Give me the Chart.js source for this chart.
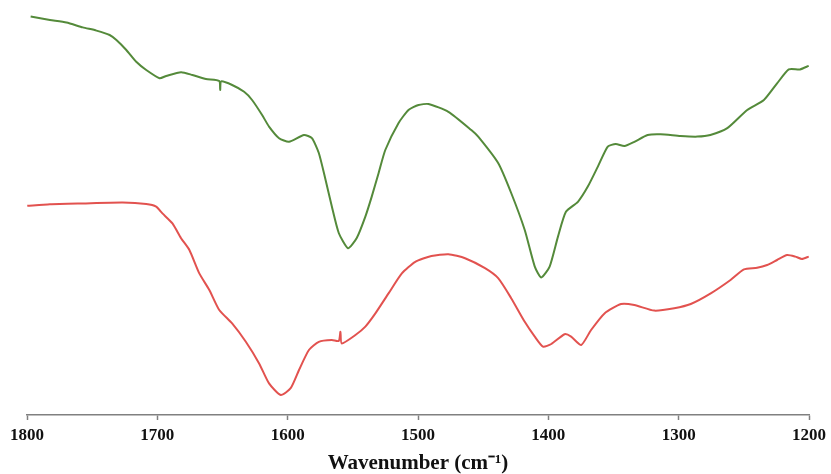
<!DOCTYPE html>
<html>
<head>
<meta charset="utf-8">
<script src="https://cdn.jsdelivr.net/npm/chart.js@4"></script>
<style>
  body { margin: 0; background: #fff; }
  #wrap { width: 831px; height: 474px; }
</style>
</head>
<body>
<div id="wrap"><canvas id="ftirChart" width="831" height="474"></canvas></div>
<script>
// wavenumbers (cm-1) and relative transmittance
const greenWn = [1797.2, 1782.4, 1769.7, 1757.2, 1746.7, 1736.6, 1731.4, 1723.8, 1716.2, 1708.5,
  1698.3, 1693.2, 1681.8, 1673.1, 1662.7, 1652.5, 1651.8, 1651.0, 1642.6, 1633.4, 1627.3,
  1619.6, 1614.3, 1606.6, 1599.0, 1587.5, 1581.4, 1576.1, 1570.9, 1566.1, 1560.8, 1553.7,
  1547.0, 1540.4, 1535.5, 1530.2, 1525.1, 1514.9, 1507.3, 1499.6, 1492.0, 1476.7, 1459.1,
  1453.8, 1438.5, 1428.5, 1418.1, 1410.4, 1405.4, 1399.0, 1392.6, 1386.5, 1377.3, 1369.7,
  1362.0, 1354.4, 1348.3, 1341.6, 1334.0, 1323.8, 1313.9, 1298.6, 1285.6, 1275.7, 1262.7,
  1247.4, 1234.6, 1224.5, 1215.5, 1206.9, 1200.2];
const greenVal = [99.6, 98.75, 98.1, 96.9, 96.1, 95.0, 93.75, 91.25, 88.3, 86.25,
  84.2, 84.75, 85.7, 85.0, 84.0, 83.5, 81.25, 83.4, 82.5, 80.8, 78.75,
  75.0, 72.1, 69.2, 68.3, 70.0, 69.2, 65.5, 58.75, 52.1, 45.5, 41.7,
  44.25, 49.6, 54.6, 60.5, 66.25, 73.0, 76.25, 77.5, 77.75, 75.8, 71.25,
  69.6, 63.0, 55.5, 46.25, 37.1, 34.4, 37.1, 44.6, 50.8, 53.3, 57.1,
  62.1, 67.1, 67.75, 67.25, 68.3, 70.0, 70.2, 69.75, 69.6, 70.0, 71.7,
  76.25, 78.75, 82.9, 86.4, 86.4, 87.3];

const redWn = [1799.8, 1782.4, 1757.2, 1726.6, 1708.5, 1700.9, 1696.1, 1688.4, 1681.8, 1675.4,
  1667.8, 1660.1, 1652.5, 1642.6, 1632.1, 1621.9, 1614.3, 1605.3, 1597.7, 1591.3, 1583.7,
  1576.1, 1566.1, 1560.8, 1559.5, 1558.5, 1548.0, 1540.4, 1532.7, 1522.6, 1512.4, 1502.1,
  1489.7, 1476.7, 1463.9, 1448.6, 1438.5, 1428.5, 1418.1, 1410.4, 1404.1, 1397.7, 1387.5,
  1382.5, 1374.8, 1367.2, 1356.9, 1344.2, 1334.0, 1318.7, 1303.4, 1290.7, 1275.4, 1260.2,
  1249.9, 1239.8, 1232.1, 1224.5, 1216.8, 1210.5, 1205.4, 1200.2];
const redVal = [52.3, 52.7, 52.9, 53.1, 52.75, 52.1, 50.4, 47.9, 44.2, 41.25,
  35.4, 31.25, 26.25, 22.9, 18.3, 12.9, 7.9, 5.0, 6.7, 11.25, 16.25,
  18.3, 18.75, 18.5, 20.8, 17.9, 20.0, 22.1, 25.4, 30.4, 35.4, 38.3,
  39.75, 40.2, 39.2, 36.7, 34.2, 29.2, 23.3, 19.6, 17.1, 17.75, 20.2,
  19.6, 17.5, 21.25, 25.4, 27.75, 27.5, 26.1, 26.7, 27.75, 30.4, 33.75,
  36.4, 36.8, 37.5, 38.75, 40.0, 39.6, 39.0, 39.6];

const xTicks = [1800, 1700, 1600, 1500, 1400, 1300, 1200];

function toPoints(xs, ys) {
  return xs.map((x, i) => ({ x: x, y: ys[i] }));
}

const ctx = document.getElementById('ftirChart').getContext('2d');
new Chart(ctx, {
  type: 'line',
  data: {
    datasets: [
      {
        label: 'green',
        data: toPoints(greenWn, greenVal),
        borderColor: '#548a3a',
        borderWidth: 2,
        pointRadius: 0,
        tension: 0.2
      },
      {
        label: 'red',
        data: toPoints(redWn, redVal),
        borderColor: '#e2524f',
        borderWidth: 2,
        pointRadius: 0,
        tension: 0.2
      }
    ]
  },
  options: {
    responsive: false,
    animation: false,
    layout: { padding: { left: 27, right: 19, top: 15, bottom: 0 } },
    plugins: { legend: { display: false }, tooltip: { enabled: false } },
    scales: {
      x: {
        type: 'linear',
        reverse: true,
        min: 1200,
        max: 1800,
        afterBuildTicks: scale => { scale.ticks = xTicks.map(v => ({ value: v })); },
        afterFit: scale => { scale.height = 59; },
        border: { display: true, color: '#808080', width: 1.5 },
        grid: { display: true, drawOnChartArea: false, drawTicks: true, tickLength: 5, tickColor: '#808080', tickWidth: 1.5 },
        ticks: {
          padding: 5,
          color: '#111',
          maxRotation: 0,
          font: { family: '"Liberation Serif", "Times New Roman", serif', size: 17, weight: 'bold' },
          callback: v => String(v)
        },
        title: {
          display: true,
          text: 'Wavenumber (cm⁻¹)',
          color: '#111',
          padding: { top: 0, bottom: 0 },
          font: { family: '"Liberation Serif", "Times New Roman", serif', size: 21, weight: 'bold', lineHeight: 1 }
        }
      },
      y: {
        display: false,
        min: 0,
        max: 100
      }
    }
  }
});
</script>
</body>
</html>
